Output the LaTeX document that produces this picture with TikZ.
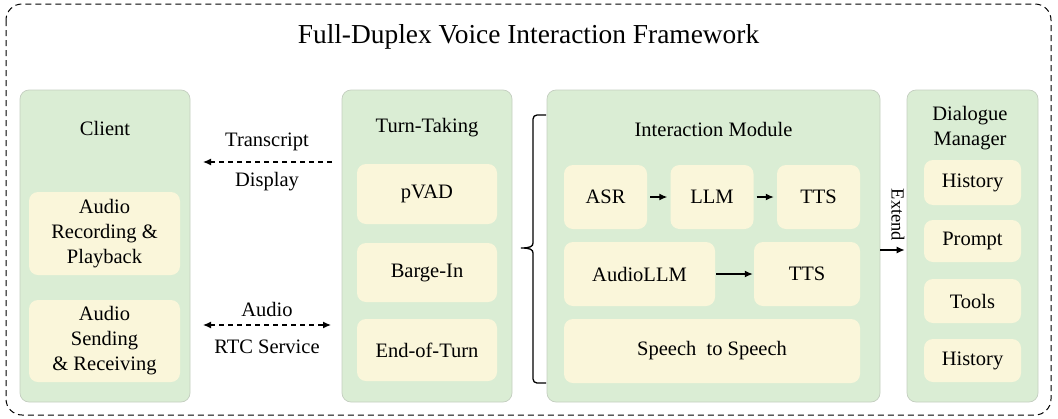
\documentclass[tikz,border=0pt]{standalone}
\usepackage{fontspec}
\setmainfont{Liberation Serif}
\usetikzlibrary{arrows.meta}
\definecolor{gfill}{HTML}{DAEDD4}
\definecolor{cfill}{HTML}{FAF6DA}
\definecolor{gborder}{HTML}{C4CEC0}
\begin{document}
\begin{tikzpicture}[x=1pt,y=-1pt,
  lbl/.style={font=\fontsize{20.5}{25}\selectfont, align=center, inner sep=0pt},
  gbox/.style={draw=gborder, line width=0.7pt, fill=gfill, rounded corners=9pt, inner sep=0pt},
  cbox/.style={fill=cfill, rounded corners=9pt, inner sep=0pt, font=\fontsize{20.5}{25}\selectfont, align=center},
  arr/.style={line width=1.3pt, -{Latex[length=8pt,width=7pt]}},
  dasharr/.style={line width=1.3pt, dash pattern=on 5pt off 4pt},
  outer/.style={line width=1pt, dash pattern=on 6pt off 4pt, rounded corners=16pt}
]
\useasboundingbox (0,0) rectangle (1058,418);
% outer frame
\draw[outer] (6,4) rectangle (1051,415);
\node[font=\fontsize{27.4}{32}\selectfont, inner sep=0pt] (title) at (528.5,37) {Full-Duplex Voice Interaction Framework};

% group boxes
\node[gbox, minimum width=170, minimum height=312] (client) at (105,246) {};
\node[gbox, minimum width=170, minimum height=312] (turn) at (427,246) {};
\node[gbox, minimum width=333, minimum height=312] (inter) at (713.5,246) {};
\node[gbox, minimum width=131, minimum height=312] (dm) at (972.5,246) {};

% group labels
\node[lbl] (clientlbl) at (105,128) {Client};
\node[lbl] (turnlbl) at (427,128) {Turn-Taking};
\node[lbl] (interlbl) at (713.5,129) {Interaction Module};
\node[lbl] (dmlbl) at (970,128) {Dialogue\\Manager};

% client inner
\node[cbox, minimum width=151, minimum height=83] (rec) at (104.5,233.5) {Audio\\Recording \&\\Playback};
\node[cbox, minimum width=151, minimum height=82] (send) at (104.5,341) {Audio\\Sending\\\& Receiving};

% turn-taking inner
\node[cbox, minimum width=140, minimum height=60] (pvad) at (427,194) {pVAD};
\node[cbox, minimum width=140, minimum height=59] (barge) at (427,272.5) {Barge-In};
\node[cbox, minimum width=140, minimum height=62] (eot) at (427,350) {End-of-Turn};

% interaction inner
\node[cbox, minimum width=83, minimum height=64] (asr) at (605.5,197) {ASR};
\node[cbox, minimum width=83, minimum height=64] (llm) at (712,197) {LLM};
\node[cbox, minimum width=83, minimum height=64] (tts1) at (818.5,197) {TTS};
\node[cbox, minimum width=151, minimum height=64] (audiollm) at (639.5,274) {AudioLLM};
\node[cbox, minimum width=106, minimum height=64] (tts2) at (807,274) {TTS};
\node[cbox, minimum width=296, minimum height=64] (s2s) at (712,351) {Speech\ \ to Speech};

% dialogue manager inner
\node[cbox, minimum width=97, minimum height=45] (hist1) at (972.5,182.5) {History};
\node[cbox, minimum width=97, minimum height=42] (prompt) at (972.5,241) {Prompt};
\node[cbox, minimum width=97, minimum height=44] (tools) at (972.5,301) {Tools};
\node[cbox, minimum width=97, minimum height=43] (hist2) at (972.5,360.5) {History};

% inner arrows
\draw[arr, shorten <=3pt, shorten >=3pt] (asr) -- (llm);
\draw[arr, shorten <=3pt, shorten >=3pt] (llm) -- (tts1);
\draw[arr, shorten <=1pt, shorten >=1pt] (audiollm) -- (tts2);

% transcript arrow
\coordinate (trA) at (332,162);
\coordinate (trB) at (203,162);
\draw[dasharr, -{Latex[length=8pt,width=7pt]}] (trA) -- (trB);
\node[lbl] (trlbl1) at (267,142) {Transcript};
\node[lbl] (trlbl2) at (267,182) {Display};

% audio arrow
\coordinate (auA) at (203,325);
\coordinate (auB) at (331,325);
\draw[dasharr, {Latex[length=8pt,width=7pt]}-{Latex[length=8pt,width=7pt]}] (auA) -- (auB);
\node[lbl] (aulbl1) at (267,309) {Audio};
\node[lbl] (aulbl2) at (267,347) {RTC Service};

% brace
\draw[line width=1.3pt] (546,115) -- (537,115) to[out=180,in=90] (533,119) -- (533,243)
  .. controls (533,246.5) and (530,248) .. (521,248)
  .. controls (530,248) and (533,249.5) .. (533,253) -- (533,379) to[out=-90,in=180] (537,383) -- (546,383);

% extend arrow
\draw[arr, shorten >=2pt] ([yshift=-4pt]inter.east) -- ([yshift=-4pt]dm.west);
\node[font=\fontsize{18.5}{22}\selectfont, inner sep=0pt, rotate=-90] (extlbl) at (898,215) {Extend};
\end{tikzpicture}
\end{document}
